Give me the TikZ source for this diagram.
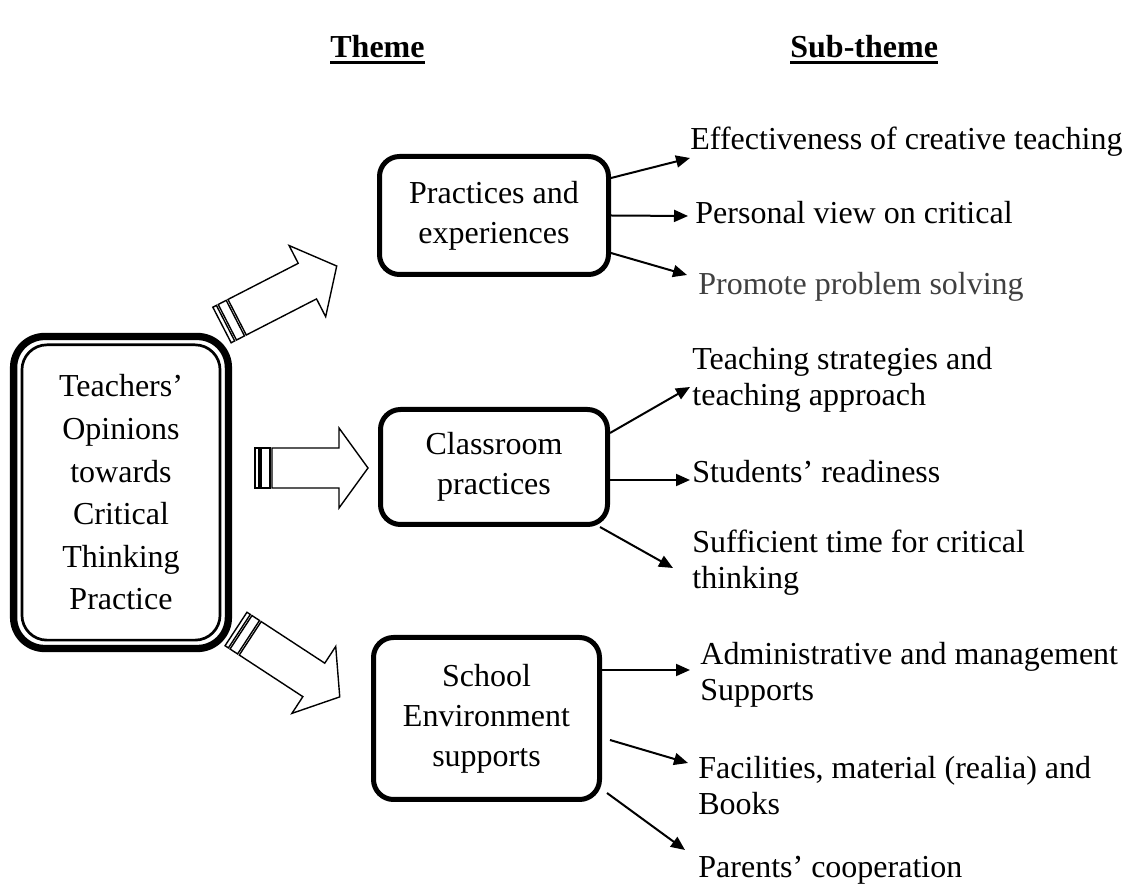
\documentclass[tikz,border=0pt]{standalone}
\usepackage{fontspec}
\setmainfont{Liberation Serif}
\usetikzlibrary{arrows.meta, positioning, calc}

\begin{document}
\begin{tikzpicture}[
        x=0.5pt, y=-0.5pt, % one unit = one pixel of the layout, y downwards
        % styles
        mainbox/.style={rectangle, rounded corners=15.5pt, draw=black, line width=3.65pt, minimum width=107.4pt, minimum height=156pt, align=center, font=\fontsize{16}{21.3}\selectfont},
        themebox/.style={rectangle, rounded corners=10pt, draw=black, line width=2.5pt, align=center, font=\fontsize{16}{20}\selectfont},
        subtheme/.style={anchor=west, inner sep=0pt, align=left, font=\fontsize{16}{18}\selectfont},
        header/.style={anchor=base west, inner sep=0pt, font=\fontsize{16}{18}\selectfont\bfseries},
        arrow/.style={line width=1pt, -{Triangle[length=7pt,width=6pt]}},
        pics/stripearrow/.style args={#1/#2}{code={
            \draw[line width=0.7pt, fill=white] (0,-20) rectangle (4,20);
            \draw[line width=0.7pt, fill=white] (6,-20) rectangle (15,20);
            \draw[line width=0.7pt, fill=white] (17,-20) -- (#2,-20) -- (#2,-40) -- (#1,0) -- (#2,40) -- (#2,20) -- (17,20) -- cycle;
        }} ]

    \useasboundingbox (0,0) rectangle (1131,892);

    % --- headers ---
    \node (themehd) [header] at (330,58) {Theme};
    \node (subhd)   [header] at (790,58) {Sub-theme};
    \draw [line width=1.5pt] ($(themehd.base west)+(0,4.5)$) -- ($(themehd.base east)+(0,4.5)$);
    \draw [line width=1.5pt] ($(subhd.base west)+(0,4.5)$) -- ($(subhd.base east)+(0,4.5)$);

    % --- main box ---
    \node (opinion) [mainbox] at (121,492.5) {Teachers’\\Opinions\\towards\\Critical\\Thinking\\Practice};
    \draw [line width=1.35pt, rounded corners=12.5pt] ($(opinion.north west)+(12,12)$) rectangle ($(opinion.south east)+(-12,-12)$);

    % --- themes ---
    \node (practice)  [themebox, minimum width=114.5pt, minimum height=59pt]   at (494,215.5) {Practices and\\experiences};
    \node (classroom) [themebox, minimum width=113.5pt, minimum height=57.5pt] at (494,467)   {Classroom\\practices};
    \node (school)    [themebox, minimum width=113pt, minimum height=81pt]     at (486.5,718.5) {School\\Environment\\supports};

    % block arrows from the main box
    \pic [rotate=27.2]  at (222,325) {stripearrow={129/96}};
    \pic                at (255,468) {stripearrow={113/84}};
    \pic [rotate=-33.2] at (236,629) {stripearrow={124/93}};

    % --- sub-themes ---
    \node (effect)   [subtheme] at (690,142) {Effectiveness of creative teaching};
    \node (personal) [subtheme] at (695,213) {Personal view on critical};
    \node (promote)  [subtheme, text=black!75] at (698,287) {Promote problem solving};

    \node (strategy) [subtheme] at (692,380) {Teaching strategies and\\teaching approach};
    \node (ready)    [subtheme] at (692,472) {Students’ readiness};
    \node (time)     [subtheme] at (692,563) {Sufficient time for critical\\thinking};

    \node (admin)    [subtheme] at (700,675) {Administrative and management\\Supports};
    \node (facility) [subtheme] at (698,786) {Facilities, material (realia) and\\Books};
    \node (parent)   [subtheme] at (698,870) {Parents’ cooperation};

    % --- connections ---
    \draw [arrow] ($(practice.east)+(0,-37.5)$) -- ($(effect.west)+(0,16)$);
    \draw [arrow] (practice.east) -- ($(personal.west)+(-7,3)$);
    \draw [arrow] ($(practice.east)+(0,37.5)$) -- ($(promote.west)+(-11,-12)$);

    \draw [arrow] ($(classroom.east)+(0,-34)$) -- ($(strategy.west)+(-2,7)$);
    \draw [arrow] ($(classroom.east)+(0,13)$) -- ($(ready.west)+(-2,8)$);
    \draw [arrow] ($(classroom.south east)+(-10,0)$) -- ($(time.west)+(-19,5)$);

    \draw [arrow] ($(school.east)+(0,-48.5)$) -- ($(admin.west)+(-10,-5)$);
    \draw [arrow] ($(school.east)+(8,21.5)$) -- ($(facility.west)+(-10,-23)$);
    \draw [arrow] ($(school.east)+(5,74.5)$) -- ($(parent.west)+(-13,-20)$);

\end{tikzpicture}
\end{document}
